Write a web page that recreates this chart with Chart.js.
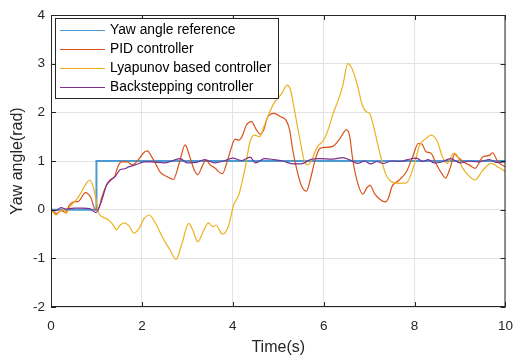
<!DOCTYPE html>
<html>
<head>
<meta charset="utf-8">
<script src="https://cdn.jsdelivr.net/npm/chart.js@4.4.1/dist/chart.umd.min.js"></script>
<style>
    body { margin: 0; background: #ffffff; }
    #yawChart { display: block; }
</style>
</head>
<body>
<canvas id="yawChart" width="524" height="357"></canvas>
<script>
// ============================================
// DATA
// ============================================
const seriesNames = ['Yaw angle reference', 'PID controller', 'Lyapunov based controller', 'Backstepping controller'];
const seriesColors = ['#4a9bd3', '#D95319', '#EDB120', '#7E2F8E'];

const timeTicks = [0, 2, 4, 6, 8, 10];
const angleTicks = [-2, -1, 0, 1, 2, 3, 4];

const refTime = [0, 1, 1, 10];
const refYaw = [0, 0, 1, 1];

const pidTime = [0, 0.12, 0.22, 0.32, 0.4, 0.5, 0.6, 0.76, 0.87, 0.98, 1.05, 1.12, 1.22, 1.3, 1.4, 1.47, 1.55, 1.68, 1.79, 1.9,
    2.05, 2.12, 2.22, 2.3, 2.41, 2.55, 2.69, 2.82, 2.95, 3.05, 3.15, 3.23, 3.33, 3.41, 3.5, 3.6, 3.77, 3.88, 3.95,
    4.05, 4.13, 4.2, 4.3, 4.41, 4.52, 4.6, 4.68, 4.77, 4.91, 5.05, 5.17, 5.25, 5.32, 5.43, 5.52, 5.62, 5.7, 5.82, 5.92,
    6.05, 6.2, 6.35, 6.5, 6.57, 6.64, 6.75, 6.86, 6.95, 7.02, 7.12, 7.24, 7.36, 7.43, 7.5, 7.65, 7.82, 7.97,
    8.08, 8.16, 8.25, 8.36, 8.47, 8.6, 8.68, 8.79, 8.88, 8.95, 9.08, 9.2, 9.33, 9.5, 9.65, 9.72, 9.83, 10];
const pidYaw = [0, -0.08, -0.02, -0.06, 0.09, 0.16, 0.17, 0.35, 0.26, 0.0, 0.03, 0.26, 0.5, 0.61, 0.68, 0.88, 0.98, 0.98, 0.92, 1.0,
    1.18, 1.21, 1.08, 0.95, 0.76, 0.68, 0.62, 0.95, 1.33, 1.1, 0.82, 0.72, 0.9, 1.02, 0.92, 0.86, 0.74, 1.0, 1.22,
    1.45, 1.43, 1.5, 1.74, 1.81, 1.64, 1.55, 1.64, 1.91, 1.98, 1.91, 1.84, 1.64, 1.22, 0.74, 0.47, 0.38, 0.6, 1.05, 1.26,
    1.28, 1.3, 1.45, 1.64, 1.52, 1.02, 0.54, 0.32, 0.45, 0.5, 0.33, 0.21, 0.16, 0.25, 0.47, 0.6, 0.78, 1.12,
    1.36, 1.35, 1.19, 1.16, 0.95, 0.74, 0.65, 0.88, 1.14, 1.08, 0.98, 0.92, 0.85, 1.08, 1.12, 1.17, 0.98, 0.88];

const lyapTime = [0, 0.12, 0.2, 0.28, 0.33, 0.4, 0.48, 0.58, 0.69, 0.78, 0.85, 0.92, 0.98, 1.05, 1.16, 1.25, 1.35, 1.44, 1.52, 1.62,
    1.72, 1.82, 1.93, 2.05, 2.16, 2.3, 2.45, 2.62, 2.75, 2.88, 3.03, 3.12, 3.23, 3.35, 3.46, 3.56, 3.63, 3.77, 3.9,
    4.02, 4.13, 4.27, 4.38, 4.48, 4.59, 4.69, 4.8, 4.9, 5.08, 5.19, 5.26, 5.37, 5.48, 5.58, 5.65, 5.75, 5.86,
    6.0, 6.1, 6.21, 6.32, 6.42, 6.53, 6.62, 6.73, 6.85, 6.94, 7.01, 7.1, 7.22, 7.36, 7.48, 7.64, 7.82,
    8.0, 8.11, 8.25, 8.36, 8.5, 8.61, 8.72, 8.86, 8.93, 9.04, 9.19, 9.33, 9.5, 9.69, 9.83, 10];
const lyapYaw = [0, -0.11, -0.03, 0, -0.08, 0.03, 0.13, 0.23, 0.4, 0.54, 0.61, 0.5, 0.26, -0.06, -0.16, -0.2, -0.29, -0.41, -0.32, -0.27,
    -0.34, -0.48, -0.4, -0.18, -0.11, -0.28, -0.56, -0.83, -1.02, -0.7, -0.28, -0.42, -0.66, -0.45, -0.27, -0.35, -0.32, -0.5, -0.35,
    0.1, 0.3, 0.85, 1.4, 1.53, 1.5, 1.72, 1.98, 2.18, 2.39, 2.56, 2.49, 1.98, 1.43, 0.98, 0.92, 1.05, 1.29,
    1.43, 1.65, 1.98, 2.25, 2.55, 3.0, 2.9, 2.6, 2.15, 2.01, 1.98, 1.7, 1.22, 0.74, 0.58, 0.54, 0.55,
    0.95, 1.33, 1.46, 1.53, 1.4, 1.09, 0.95, 1.16, 1.12, 0.88, 0.7, 0.61, 0.81, 0.95, 0.88, 0.78];

const backTime = [0, 0.1, 0.22, 0.35, 0.5, 0.7, 0.85, 0.99, 1.12, 1.22, 1.33, 1.42, 1.52, 1.62, 1.71, 1.85, 2.05, 2.2, 2.5, 2.84,
    3.0, 3.2, 3.38, 3.6, 3.8, 3.99, 4.2, 4.38, 4.5, 4.7, 4.9, 5.1, 5.34, 5.5, 5.71, 5.9, 6.2, 6.42, 6.58, 6.75, 6.9,
    7.03, 7.18, 7.3, 7.5, 7.7, 7.85, 8.04, 8.18, 8.3, 8.43, 8.6, 8.79, 9.0, 9.2, 9.4, 9.65, 9.8, 10];
const backYaw = [0, -0.02, 0.04, 0.01, 0.03, 0.03, 0.02, -0.06, 0.2, 0.5, 0.62, 0.69, 0.82, 0.84, 0.88, 0.92, 0.98, 0.98, 0.96, 1.05,
    0.96, 0.97, 1.03, 0.96, 1.0, 1.06, 1.01, 1.08, 0.96, 1.05, 1.03, 1.0, 0.94, 0.94, 1.03, 1.05, 1.04, 1.07, 1.02, 0.95, 1.0,
    0.94, 0.99, 0.95, 1.0, 0.99, 1.03, 1.06, 0.99, 1.03, 0.96, 0.98, 1.05, 0.96, 1.0, 0.98, 1.03, 0.97, 0.98];

// ============================================
// HELPERS
// ============================================
function toPoints(xs, ys) {
    return xs.map((x, i) => ({ x: x, y: ys[i] }));
}

const FONT = '"Liberation Sans", Arial, Helvetica, sans-serif';
const AXIS_COLOR = '#262626';

// Box around the plot, inward ticks and the boxed legend (MATLAB look)
const matlabFrame = {
    id: 'matlabFrame',
    afterDraw(chart) {
        const ctx = chart.ctx;
        const area = chart.chartArea;
        const xs = chart.scales.x;
        const ys = chart.scales.y;
        const tick = 5;

        ctx.save();
        ctx.strokeStyle = AXIS_COLOR;
        ctx.lineWidth = 1;
        ctx.strokeRect(area.left + 0.5, area.top + 0.5, area.right - area.left - 1, area.bottom - area.top - 1);

        ctx.beginPath();
        timeTicks.forEach(t => {
            const px = Math.round(xs.getPixelForValue(t)) + 0.5;
            ctx.moveTo(px, area.bottom);
            ctx.lineTo(px, area.bottom - tick);
            ctx.moveTo(px, area.top);
            ctx.lineTo(px, area.top + tick);
        });
        angleTicks.forEach(v => {
            const py = Math.round(ys.getPixelForValue(v)) + 0.5;
            ctx.moveTo(area.left, py);
            ctx.lineTo(area.left + tick, py);
            ctx.moveTo(area.right, py);
            ctx.lineTo(area.right - tick, py);
        });
        ctx.stroke();

        // legend
        const bx = area.left + 4;
        const by = area.top + 3;
        const bw = 223;
        const rowH = 19;
        const bh = rowH * seriesNames.length + 4;
        ctx.fillStyle = '#ffffff';
        ctx.fillRect(bx, by, bw, bh);
        ctx.strokeRect(bx + 0.5, by + 0.5, bw, bh);

        ctx.font = '13.8px ' + FONT;
        ctx.textBaseline = 'middle';
        ctx.textAlign = 'left';
        chart.data.datasets.forEach((ds, i) => {
            const cy = by + 12 + i * rowH + 0.5;
            ctx.strokeStyle = ds.borderColor;
            ctx.lineWidth = 1.2;
            ctx.beginPath();
            ctx.moveTo(bx + 5, cy);
            ctx.lineTo(bx + 50, cy);
            ctx.stroke();
            ctx.fillStyle = '#000000';
            ctx.fillText(ds.label, bx + 55, cy);
        });
        ctx.restore();
    }
};

const seriesData = [
    toPoints(refTime, refYaw),
    toPoints(pidTime, pidYaw),
    toPoints(lyapTime, lyapYaw),
    toPoints(backTime, backYaw)
];

const datasets = seriesNames.map((name, i) => ({
    label: name,
    data: seriesData[i],
    borderColor: seriesColors[i],
    backgroundColor: seriesColors[i],
    borderWidth: i === 0 ? 2 : 1.2,
    pointRadius: 0,
    cubicInterpolationMode: i === 0 ? 'default' : 'monotone',
    tension: 0,
    order: seriesNames.length - i
}));

// ============================================
// CHART
// ============================================
new Chart(document.getElementById('yawChart').getContext('2d'), {
    type: 'line',
    data: { datasets: datasets },
    options: {
        responsive: false,
        animation: false,
        devicePixelRatio: 1,
        layout: { padding: { left: 0, right: 8, top: 15, bottom: 0 } },
        plugins: {
            legend: { display: false },
            tooltip: { enabled: false }
        },
        scales: {
            x: {
                type: 'linear',
                min: 0,
                max: 10,
                afterBuildTicks: scale => { scale.ticks = timeTicks.map(v => ({ value: v })); },
                afterFit: scale => { scale.height = 50; },
                grid: { color: '#e3e3e3', drawTicks: false },
                border: { display: false },
                ticks: { color: AXIS_COLOR, padding: 11, maxRotation: 0, font: { family: FONT, size: 13.5 } },
                title: {
                    display: true,
                    text: 'Time(s)',
                    color: AXIS_COLOR,
                    font: { family: FONT, size: 16 },
                    padding: { top: 0, bottom: 0 }
                }
            },
            y: {
                type: 'linear',
                min: -2,
                max: 4,
                afterBuildTicks: scale => { scale.ticks = angleTicks.map(v => ({ value: v })); },
                afterFit: scale => { scale.width = 51; },
                grid: { color: '#e3e3e3', drawTicks: false },
                border: { display: false },
                ticks: { color: AXIS_COLOR, padding: 6, font: { family: FONT, size: 13.5 } },
                title: {
                    display: true,
                    text: 'Yaw angle(rad)',
                    color: AXIS_COLOR,
                    font: { family: FONT, size: 16 },
                    padding: { top: 8, bottom: 0 }
                }
            }
        }
    },
    plugins: [matlabFrame]
});
</script>
</body>
</html>
